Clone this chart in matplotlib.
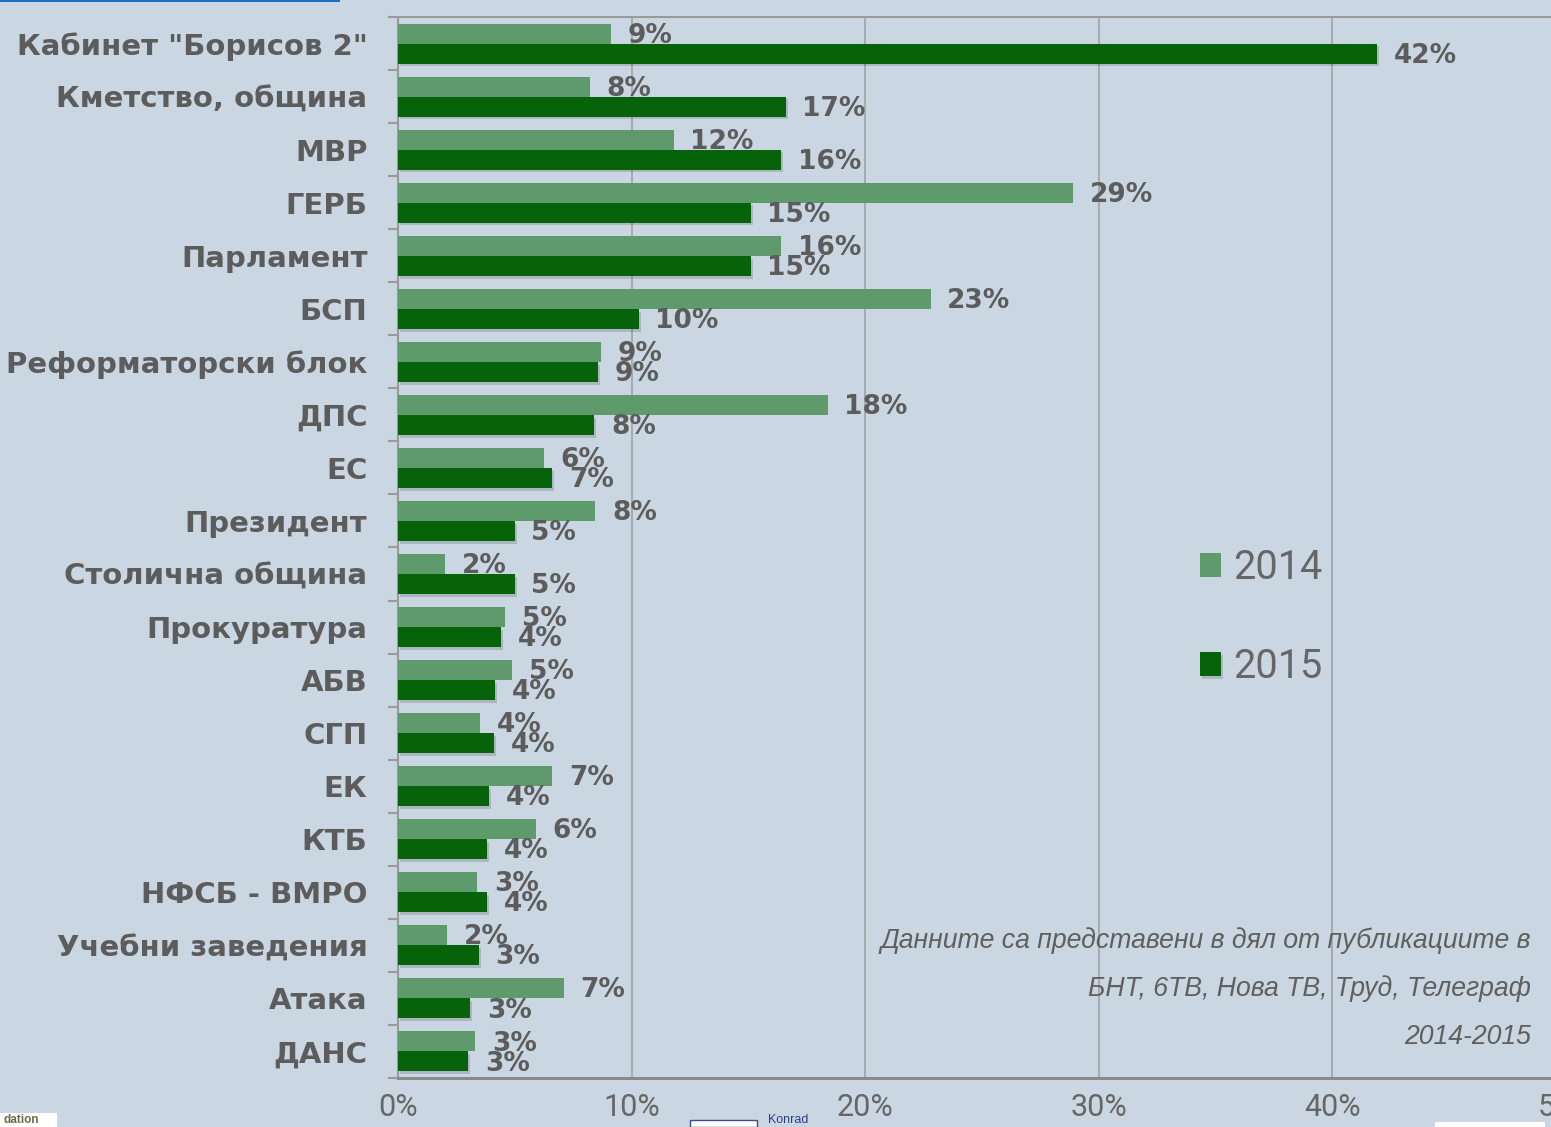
import matplotlib
matplotlib.use("Agg")
import matplotlib.pyplot as plt
import matplotlib.patheffects as pe
from matplotlib.patches import Rectangle
import numpy as np

categories = ['Кабинет "Борисов 2"', "Кметство, община", "МВР", "ГЕРБ", "Парламент",
              "БСП", "Реформаторски блок", "ДПС", "ЕС", "Президент",
              "Столична община", "Прокуратура", "АБВ", "СГП", "ЕК",
              "КТБ", "НФСБ - ВМРО", "Учебни заведения", "Атака", "ДАНС"]
v2014 = [9.1, 8.2, 11.8, 28.9, 16.4, 22.8, 8.7, 18.4, 6.25, 8.45,
         2.0, 4.6, 4.9, 3.5, 6.6, 5.9, 3.4, 2.1, 7.1, 3.3]
v2015 = [41.9, 16.6, 16.4, 15.1, 15.1, 10.3, 8.55, 8.4, 6.6, 5.0,
         5.0, 4.4, 4.15, 4.1, 3.9, 3.8, 3.8, 3.45, 3.1, 3.0]
xticks = [0, 10, 20, 30, 40, 50]

c2014 = "#5f9a6d"
c2015 = "#07630a"
bg = "#cad7e2"
grey = "#5c5c5c"

W, H = 1551, 1127
fig = plt.figure(figsize=(W / 100, H / 100), dpi=100, facecolor=bg)
ax = fig.add_axes([398 / W, 1 - 1078 / H, (1566 - 398) / W, (1078 - 17) / H])
ax.set_facecolor(bg)

y = np.arange(len(categories))
h = 20 / 53
shadow = [pe.SimplePatchShadow(offset=(1.5, -2), alpha=0.15, shadow_rgbFace="#000000"), pe.Normal()]
b1 = ax.barh(y - h / 2, v2014, height=h, color=c2014, label="2014", zorder=3)
b2 = ax.barh(y + h / 2, v2015, height=h, color=c2015, label="2015", zorder=3)
for p in b2:
    p.set_path_effects(shadow)

for yy, v in zip(y - h / 2, v2014):
    ax.annotate(f"{round(v)}%", (v, yy), xytext=(12, -1.5), textcoords="offset points",
                va="center", ha="left", fontsize=19, fontweight="bold", color=grey,
                family="DejaVu Sans", zorder=4)
for yy, v in zip(y + h / 2, v2015):
    ax.annotate(f"{round(v)}%", (v, yy), xytext=(12, -1.5), textcoords="offset points",
                va="center", ha="left", fontsize=19, fontweight="bold", color=grey,
                family="DejaVu Sans", zorder=4)

ax.set_xlim(0, 50)
ax.set_ylim(len(categories) - 0.5, -0.5)
ax.set_xticks(xticks)
ax.set_xticklabels([f"{t}%" for t in xticks], fontsize=22, color="#666666", family="Roboto")
ax.tick_params(axis="x", length=0, pad=11)
ax.set_yticks(y)
ax.set_yticklabels(categories, fontsize=21, fontweight="bold", color=grey, family="DejaVu Sans")
ax.set_yticks(np.arange(-0.5, len(categories)), minor=True)
ax.tick_params(axis="y", which="major", length=0, pad=22)
ax.tick_params(axis="y", which="minor", length=7.5, width=1.5, color="#9a9a9a")

ax.grid(axis="x", color="#9e9e9e", linewidth=1.1, zorder=0)
ax.set_axisbelow(True)
ax.spines["right"].set_visible(False)
ax.spines["left"].set_color("#9a9a9a")
ax.spines["left"].set_linewidth(1.5)
ax.spines["top"].set_color("#9a9a9a")
ax.spines["top"].set_linewidth(1.5)
ax.spines["bottom"].set_color("#8a8a8a")
ax.spines["bottom"].set_linewidth(2.2)

leg = ax.legend(loc="center left", bbox_to_anchor=(1200 / W, 1 - 617 / H),
                bbox_transform=fig.transFigure, frameon=False,
                handlelength=0.54, handleheight=0.54, handletextpad=0.3,
                labelspacing=1.52, borderpad=0, borderaxespad=0,
                prop={"family": "Roboto", "size": 28.5})
for t in leg.get_texts():
    t.set_color("#666666")

notes = ["Данните са представени в дял от публикациите в",
         "БНТ, 6ТВ, Нова ТВ, Труд, Телеграф",
         "2014-2015"]
for i, line in enumerate(notes):
    fig.text(1531 / W, 1 - (941 + 48 * i) / H, line, ha="right", va="center",
             fontsize=19.2, style="italic", color="#5f5f5f", family="Liberation Sans")

# bits of the page around the cropped chart
fig.add_artist(Rectangle((0, 1 - 2 / H), 340 / W, 2 / H, transform=fig.transFigure,
                         color="#1f6fc4", lw=0))
fig.add_artist(Rectangle((0, 0), 57 / W, 14 / H, transform=fig.transFigure,
                         color="white", lw=0))
fig.text(3 / W, 1 / H, "dation", fontsize=8.5, fontweight="bold", color="#6b6b4b",
         family="Liberation Sans", va="bottom")
fig.add_artist(Rectangle((690 / W, 0), 67 / W, 7 / H, transform=fig.transFigure,
                         facecolor="white", edgecolor="#3a4f8a", lw=1))
fig.text(768 / W, 1 / H, "Konrad", fontsize=9, color="#2b3f86",
         family="Liberation Sans", va="bottom")
fig.add_artist(Rectangle((1435 / W, 0), 110 / W, 5 / H, transform=fig.transFigure,
                         color="white", lw=0))

fig.savefig("out.png", dpi=100, facecolor=bg)
